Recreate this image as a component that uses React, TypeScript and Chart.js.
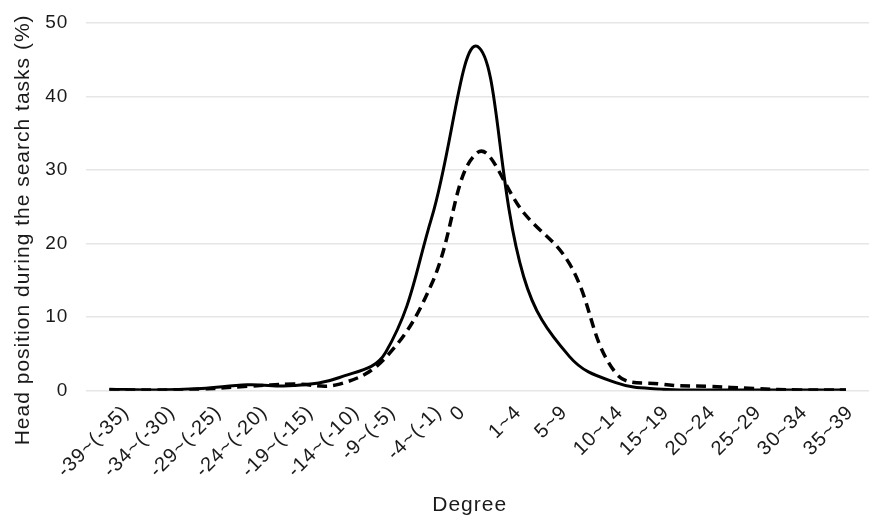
import React, { useEffect, useRef } from "react";
import { Chart, registerables } from "chart.js";

Chart.register(...registerables);

const categories = [
  "-39~(-35)", "-34~(-30)", "-29~(-25)", "-24~(-20)", "-19~(-15)", "-14~(-10)",
  "-9~(-5)", "-4~(-1)", "0", "1~4", "5~9", "10~14", "15~19", "20~24", "25~29",
  "30~34", "35~39",
];

const solidSeries = [0.2, 0.1, 0.3, 0.8, 0.7, 1.8, 5.2, 23.5, 46.8, 15.5, 4.6, 1.1, 0.2, 0.1, 0.1, 0.1, 0.1];
const dashedSeries = [0.1, 0.1, 0.2, 0.6, 0.9, 0.9, 4.5, 14.5, 32.4, 24.2, 17.2, 2.4, 0.9, 0.6, 0.3, 0.1, 0.1];

const yTicks = [0, 10, 20, 30, 40, 50];

const FONT = "'Liberation Sans', Arial, sans-serif";

function shiftTitle(scale: any, dx: number, dy: number) {
  if (!scale || scale._titlePatched) return;
  const orig = scale.drawTitle.bind(scale);
  scale.drawTitle = function () {
    const c = this.ctx;
    c.save();
    c.translate(dx, dy);
    orig();
    c.restore();
  };
  scale._titlePatched = true;
}

const spacingPlugin = {
  id: "letterSpacing",
  beforeLayout(chart: any) {
    (chart.ctx as any).letterSpacing = "1px";
  },
  afterLayout(chart: any) {
    shiftTitle(chart.scales.y, 0, 23);
    shiftTitle(chart.scales.x, -8, 0);
  },
  beforeDraw(chart: any) {
    const ctx = chart.ctx as any;
    ctx.letterSpacing = "1px";
    // Excel-like anchoring of the rotated category labels
    const xs = chart.scales.x;
    const items = xs.getLabelItems(chart.chartArea);
    for (const it of items) {
      if (it._shifted) continue;
      ctx.save();
      ctx.font = it.font.string;
      const w = ctx.measureText(String(it.label)).width;
      ctx.restore();
      it.options.translation[0] += -20 + 0.4 * w;
      it.options.translation[1] += 2;
      it._shifted = true;
    }
  },
};

export default function App() {
  const ref = useRef<HTMLCanvasElement | null>(null);
  useEffect(() => {
    if (!ref.current) return;
    const chart = new Chart(ref.current, {
      type: "line",
      data: {
        labels: categories,
        datasets: [
          {
            label: "solid",
            data: solidSeries,
            borderColor: "#000",
            borderWidth: 3,
            pointRadius: 0,
            tension: 0.4,
            fill: false,
          },
          {
            label: "dashed",
            data: dashedSeries,
            borderColor: "#000",
            borderWidth: 3.5,
            borderDash: [10, 6],
            pointRadius: 0,
            tension: 0.4,
            fill: false,
          },
        ],
      },
      options: {
        responsive: false,
        animation: false,
        layout: { padding: { top: 0, right: -4, left: 5, bottom: -2 } },
        plugins: { legend: { display: false }, tooltip: { enabled: false } },
        scales: {
          x: {
            offset: true,
            grid: { display: false },
            border: { display: false },
            ticks: {
              minRotation: 45,
              maxRotation: 45,
              autoSkip: false,
              color: "#1a1a1a",
              font: { family: FONT, size: 20 },
              padding: 0,
            },
            title: {
              display: true,
              text: "Degree",
              color: "#1a1a1a",
              font: { family: FONT, size: 21 },
              padding: { top: 12.2, bottom: 0 },
            },
          },
          y: {
            min: 0,
            max: 50,
            afterBuildTicks: (axis: any) => {
              axis.ticks = yTicks.map((v) => ({ value: v }));
            },
            grid: { color: "#e6e6e6", lineWidth: 1.5, drawTicks: false },
            border: { display: false },
            ticks: {
              color: "#1a1a1a",
              font: { family: FONT, size: 19, lineHeight: 0.53 },
              padding: 18,
            },
            title: {
              display: true,
              text: "Head position during the search tasks (%)",
              color: "#1a1a1a",
              font: { family: FONT, size: 21, lineHeight: 0.4 },
              padding: { top: 13.8, bottom: 0 },
            },
          },
        },
      },
      plugins: [spacingPlugin],
    });
    return () => chart.destroy();
  }, []);
  return (
    <div style={{ position: "absolute", left: 0, top: 0, width: 869, height: 516, background: "#fff" }}>
      <canvas ref={ref} width={869} height={516} />
    </div>
  );
}
